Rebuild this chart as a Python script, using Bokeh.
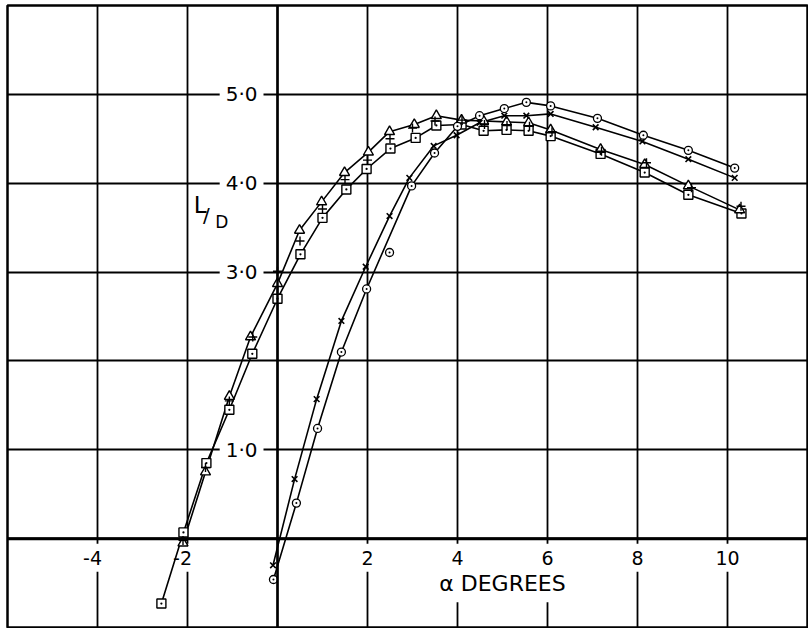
from bokeh.plotting import figure
from bokeh.models import FixedTicker, Label, Span, Range1d
from bokeh.embed import file_html
from bokeh.resources import INLINE

# ---- data ----
tri_x = [-2.1, -1.6, -1.07, -0.6, 0.0, 0.49, 0.98, 1.49, 2.02, 2.49, 3.04, 3.53, 4.09, 4.58, 5.09, 5.58, 6.07, 7.18, 8.16, 9.13, 10.27]
tri_y = [-0.05, 0.75, 1.60, 2.27, 2.87, 3.47, 3.79, 4.12, 4.35, 4.58, 4.66, 4.76, 4.71, 4.70, 4.69, 4.68, 4.60, 4.38, 4.21, 3.97, 3.70]

plus_x = [-2.1, -1.6, -1.07, -0.55, 0.0, 0.5, 1.0, 1.5, 2.0, 2.5, 3.0, 3.5, 4.1, 4.6, 5.1, 5.6, 6.1, 7.2, 8.2, 9.2, 10.3]
plus_y = [-0.02, 0.80, 1.55, 2.27, 3.01, 3.35, 3.71, 4.04, 4.26, 4.50, 4.62, 4.70, 4.71, 4.66, 4.65, 4.64, 4.58, 4.36, 4.23, 3.95, 3.74]

sq_x = [-2.58, -2.09, -1.58, -1.07, -0.56, 0.0, 0.51, 1.0, 1.53, 1.98, 2.51, 3.07, 3.53, 4.09, 4.58, 5.09, 5.58, 6.07, 7.18, 8.16, 9.13, 10.31]
sq_y = [-0.73, 0.07, 0.85, 1.45, 2.08, 2.70, 3.20, 3.61, 3.93, 4.16, 4.39, 4.51, 4.65, 4.66, 4.59, 4.60, 4.59, 4.53, 4.33, 4.12, 3.87, 3.66]

cross_x = [-0.1, 0.38, 0.87, 1.42, 1.96, 2.49, 2.93, 3.47, 3.98, 4.49, 5.04, 5.53, 6.07, 7.07, 8.11, 9.13, 10.16]
cross_y = [-0.30, 0.67, 1.57, 2.45, 3.06, 3.63, 4.06, 4.42, 4.54, 4.68, 4.76, 4.76, 4.78, 4.63, 4.47, 4.27, 4.06]

circ_x = [-0.09, 0.42, 0.89, 1.42, 1.98, 2.49, 2.98, 3.49, 4.0, 4.49, 5.04, 5.53, 6.07, 7.11, 8.13, 9.13, 10.16]
circ_y = [-0.46, 0.40, 1.24, 2.10, 2.81, 3.22, 3.97, 4.34, 4.64, 4.76, 4.84, 4.91, 4.87, 4.73, 4.54, 4.37, 4.17]
circ_on_curve = [True, True, True, True, True, False, True, True, True, True, True, True, True, True, True, True, True]

x_grid = [-6, -4, -2, 0, 2, 4, 6, 8, 10, 12]
y_grid = [-1, 0, 1, 2, 3, 4, 5, 6]
ytick_vals = [5, 4, 3, 1]
ytick_text = ["5·0", "4·0", "3·0", "1·0"]
xtick_vals = [-4, -2, 2, 4, 6, 8, 10]
xtick_text = ["-4", "-2", "2", "4", "6", "8", "10"]

FONT = "DejaVu Sans"

p = figure(width=808, height=628, x_range=Range1d(-6.0, 11.8), y_range=Range1d(-1.0, 6.0),
           output_backend="svg", toolbar_location=None,
           x_axis_location=None, y_axis_location=None,
           min_border_left=7, min_border_top=5, min_border_right=0, min_border_bottom=1,
           background_fill_color="white", border_fill_color="white",
           outline_line_color="black", outline_line_width=2.5)

p.xgrid.ticker = FixedTicker(ticks=x_grid)
p.ygrid.ticker = FixedTicker(ticks=y_grid)
for g in (p.xgrid, p.ygrid):
    g.grid_line_color = "black"
    g.grid_line_width = 1.8
    g.level = "image"

# tick labels (white backing breaks the grid lines as in the drawing)
for v, t in zip(ytick_vals, ytick_text):
    p.add_layout(Label(x=0, y=v, text=t, text_align="right", text_baseline="middle",
                       x_offset=-14, text_font=FONT, text_font_size="20px", text_color="black",
                       background_fill_color="white", padding=6, level="underlay"))
for v, t in zip(xtick_vals, xtick_text):
    p.add_layout(Label(x=v, y=0, text=t, text_align="center", text_baseline="middle",
                       x_offset=(-5 if v < 0 else 0), y_offset=-19,
                       text_font=FONT, text_font_size="19px", text_color="black",
                       background_fill_color="white", padding=7, level="underlay"))
p.add_layout(Label(x=5, y=0, text="α DEGREES", text_align="center", text_baseline="middle",
                   y_offset=-45, text_font=FONT, text_font_size="22px", text_color="black",
                   background_fill_color="white", padding=6, level="underlay"))
# L/D label
p.add_layout(Label(x=-1.72, y=3.76, text="L", text_align="center", text_baseline="middle",
                   text_font=FONT, text_font_size="23px", text_color="black",
                   background_fill_color="white", padding=2, level="underlay"))
p.add_layout(Label(x=-1.58, y=3.64, text="/", text_align="center", text_baseline="middle",
                   text_font=FONT, text_font_size="20px", text_color="black"))
p.add_layout(Label(x=-1.24, y=3.56, text="D", text_align="center", text_baseline="middle",
                   text_font=FONT, text_font_size="17px", text_color="black"))

# main axes lines
p.add_layout(Span(location=0, dimension="width", line_color="black", line_width=3))
p.add_layout(Span(location=0, dimension="height", line_color="black", line_width=2.5))

LW = 1.6
p.line(tri_x, tri_y, line_color="black", line_width=LW)
p.line(sq_x, sq_y, line_color="black", line_width=LW)
p.line(cross_x, cross_y, line_color="black", line_width=LW)
cx = [x for x, k in zip(circ_x, circ_on_curve) if k]
cy = [y for y, k in zip(circ_y, circ_on_curve) if k]
p.line(cx, cy, line_color="black", line_width=LW)

p.scatter(sq_x, sq_y, marker="square_dot", size=9, fill_color="white", line_color="black", line_width=1.4)
p.scatter(tri_x, tri_y, marker="triangle", size=10, fill_color="white", line_color="black", line_width=1.4)
p.scatter(plus_x, plus_y, marker="cross", size=9, line_color="black", line_width=1.4)
p.scatter(cross_x, cross_y, marker="x", size=8, line_color="black", line_width=1.6)
p.scatter(circ_x, circ_y, marker="circle_dot", size=8, fill_color="white", line_color="black", line_width=1.3)

open("out.html", "w").write(file_html(p, INLINE))
